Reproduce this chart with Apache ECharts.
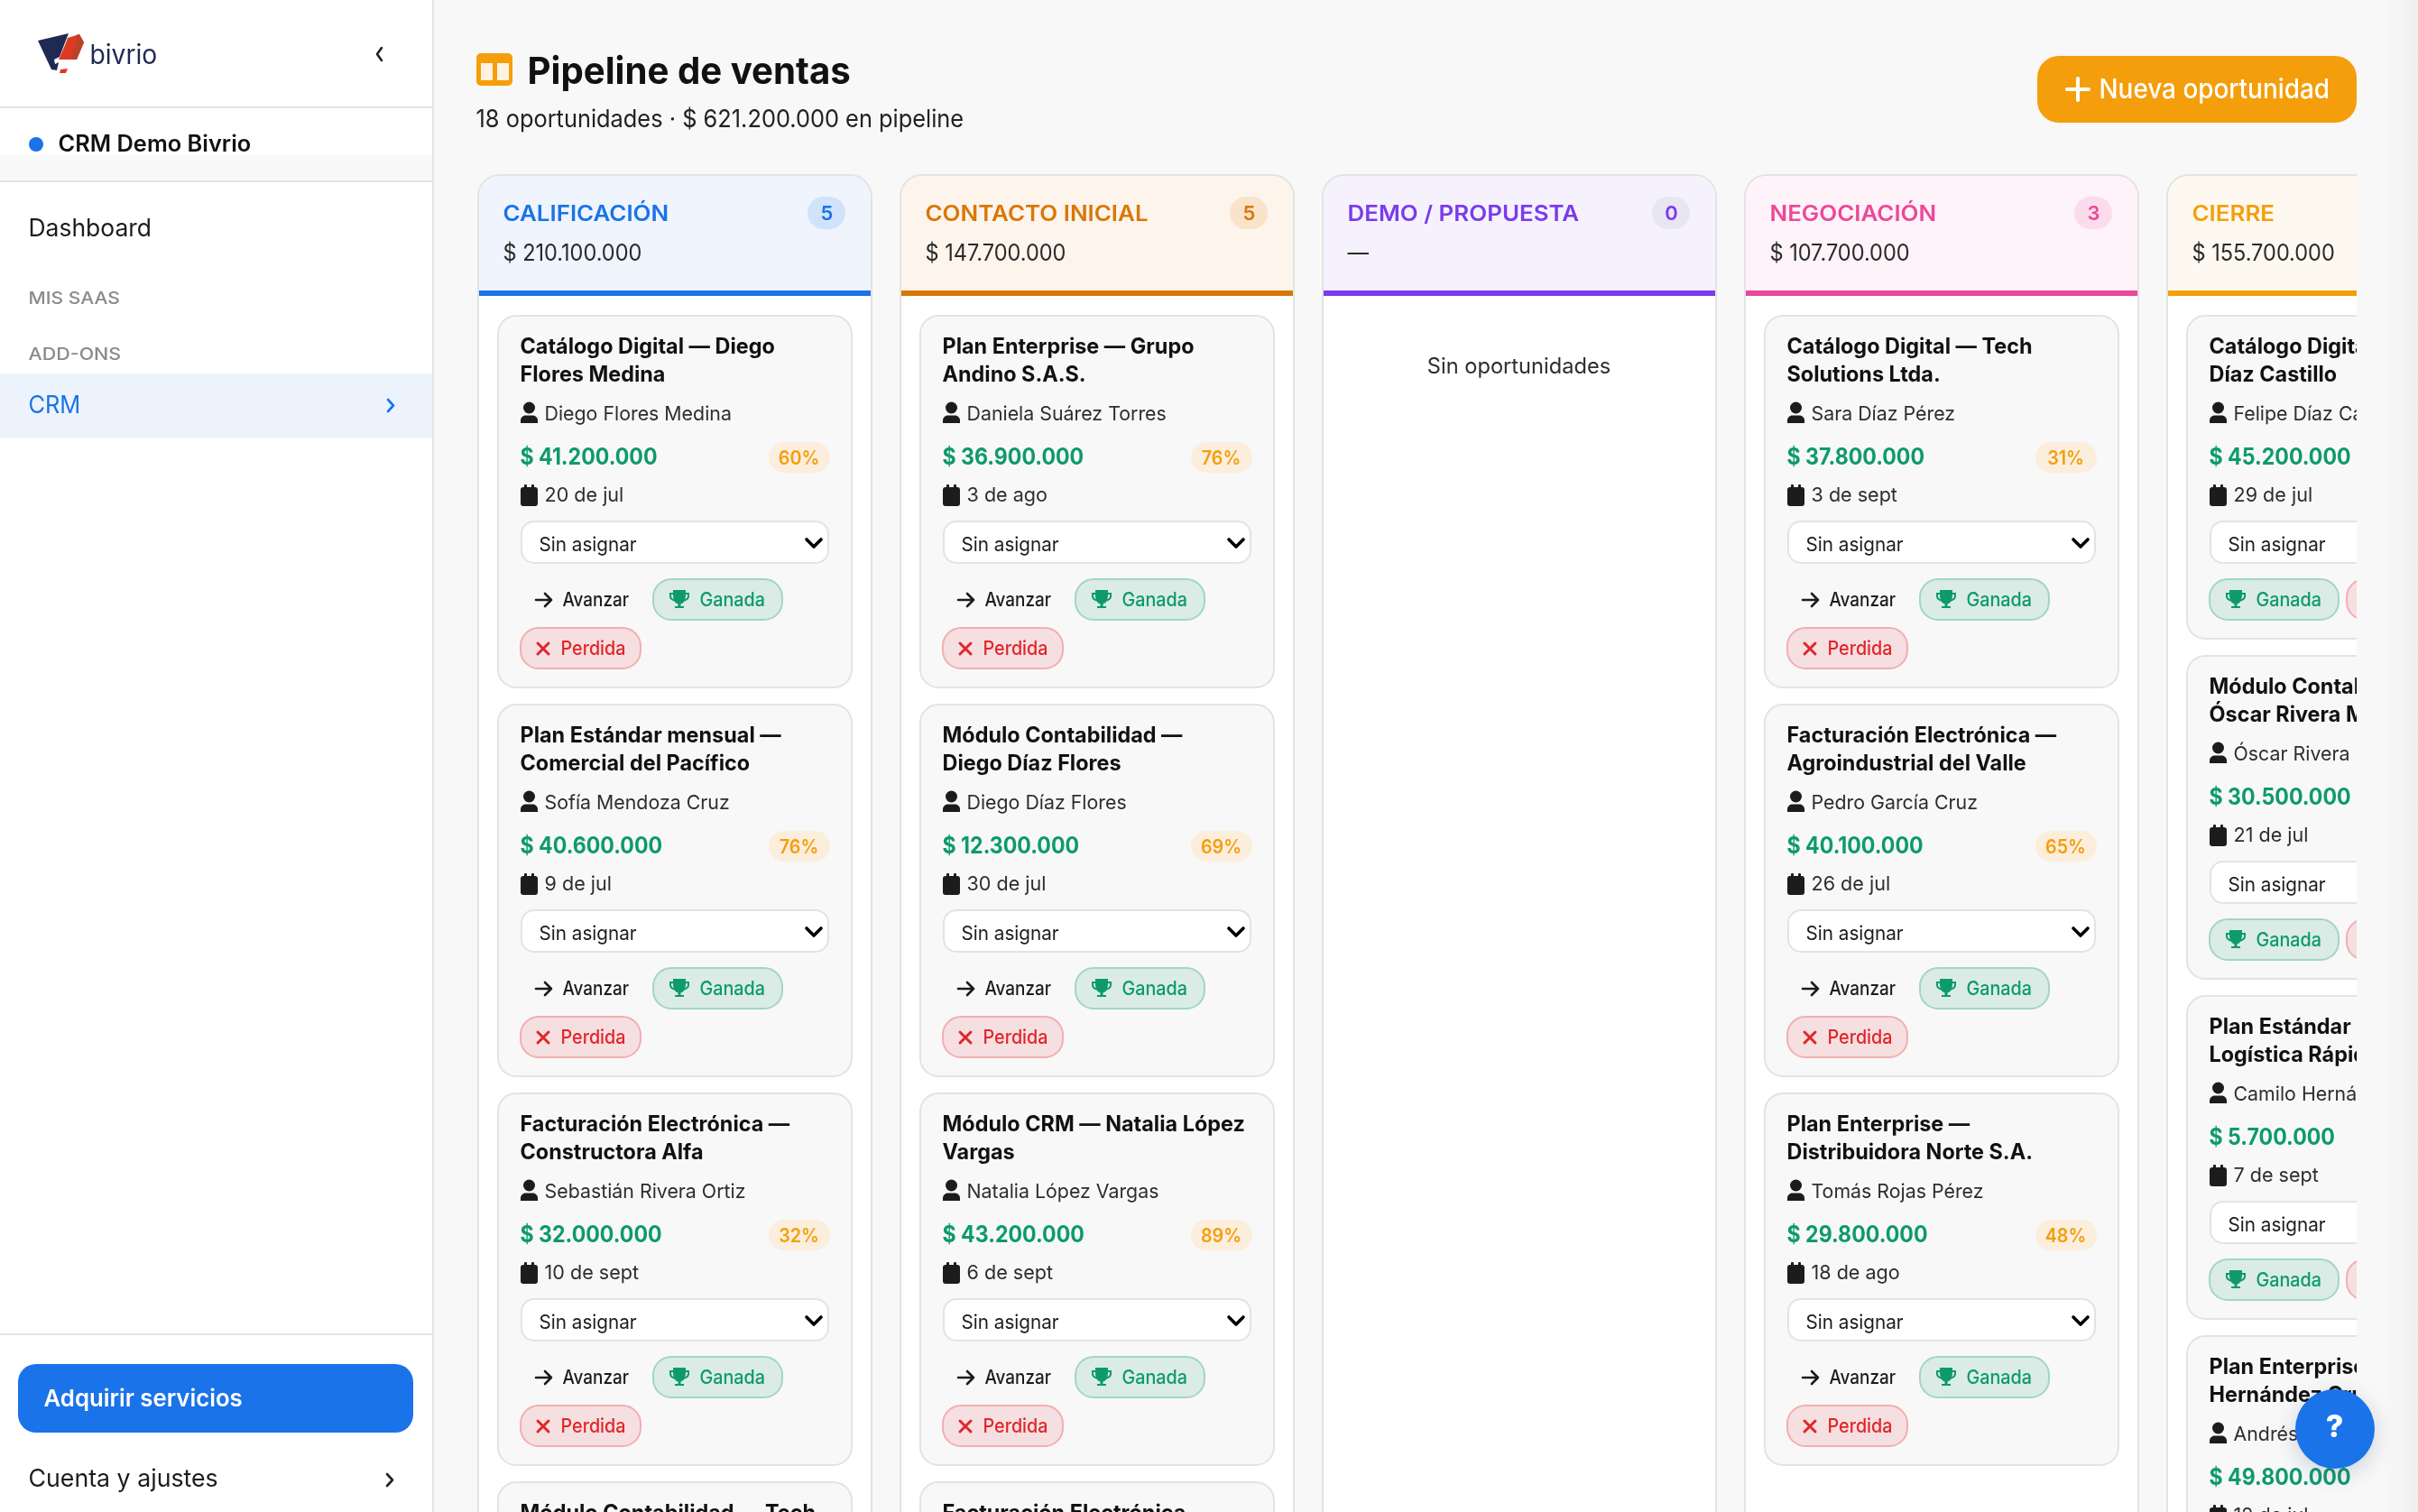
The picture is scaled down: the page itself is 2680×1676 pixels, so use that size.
<!DOCTYPE html>
<html><head><meta charset="utf-8">
<style>html,body{margin:0;padding:0;background:#f8f8f8}#c{width:2680px;height:1676px}</style>
<script src="https://cdn.jsdelivr.net/npm/echarts@6/dist/echarts.min.js"></script>
</head><body><div id="c"></div>
<script>
const stages=['CALIFICACIÓN','CONTACTO INICIAL','DEMO / PROPUESTA','NEGOCIACIÓN','CIERRE'];
const stageTotals=['$ 210.100.000','$ 147.700.000','—','$ 107.700.000','$ 155.700.000'];
const stageCounts=[5,5,0,3,5];
const stageColors=['#1a73e8','#d97706','#7c3aed','#ec4899','#f59e0b'];
const stageTints=['#eff4fd','#fdf4ec','#f5f2fe','#fdf3f9','#fef9f0'];
const badgeTints=['#d1e3fa','#fae3cb','#e8e6f2','#fbdcec','#fdecce'];

const fullStage=[0,0,0,0,1,1,1,1,3,3,3];
const fullSlot=[0,1,2,3,0,1,2,3,0,1,2];
const fullTitleA=['Catálogo Digital — Diego','Plan Estándar mensual —','Facturación Electrónica —','Módulo Contabilidad — Tech','Plan Enterprise — Grupo','Módulo Contabilidad —','Módulo CRM — Natalia López','Facturación Electrónica','Catálogo Digital — Tech','Facturación Electrónica —','Plan Enterprise —'];
const fullTitleB=['Flores Medina','Comercial del Pacífico','Constructora Alfa','','Andino S.A.S.','Diego Díaz Flores','Vargas','','Solutions Ltda.','Agroindustrial del Valle','Distribuidora Norte S.A.'];
const fullOwner=['Diego Flores Medina','Sofía Mendoza Cruz','Sebastián Rivera Ortiz','','Daniela Suárez Torres','Diego Díaz Flores','Natalia López Vargas','','Sara Díaz Pérez','Pedro García Cruz','Tomás Rojas Pérez'];
const fullAmount=[41200000,40600000,32000000,null,36900000,12300000,43200000,null,37800000,40100000,29800000];
const fullProb=[60,76,32,null,76,69,89,null,31,65,48];
const fullDate=['20 de jul','9 de jul','10 de sept','','3 de ago','30 de jul','6 de sept','','3 de sept','26 de jul','18 de ago'];

const compactSlot=[0,1,2,3];
const compactTitleA=['Catálogo Digital —','Módulo Contabilidad','Plan Estándar mensual','Plan Enterprise —'];
const compactTitleB=['Díaz Castillo','Óscar Rivera M','Logística Rápida','Hernández Cruz'];
const compactOwner=['Felipe Díaz Castillo','Óscar Rivera M','Camilo Hernández','Andrés Hernández'];
const compactAmount=[45200000,30500000,5700000,49800000];
const compactDate=['29 de jul','21 de jul','7 de sept','12 de jul'];

const FONT='Inter', K=0.94, INK='#1c1c1c', GREEN='#0e9a6c', RED='#e0262b', LINE='#e3e3e4', CARD='#f8f8f8';
const SLOT_FULL=431, SLOT_COMPACT=377, GRID_LEFT=514, GRID_TOP=349, GRID_W=2166, GRID_H=1327, BAND=468;

function T(x,y,text,size,weight,fill,align,k){
  return {type:'text',x:x-0.5,y:y+1.5,scaleX:k||K,silent:true,style:{x:0,y:0,text:text,fontFamily:FONT,fontSize:size,fontWeight:weight,fill:fill,align:align||'left',verticalAlign:'middle'}};
}
function R(x,y,w,h,r,fill,stroke,lw){
  return {type:'rect',silent:true,shape:{x:x,y:y,width:w,height:h,r:r||0},style:{fill:fill,stroke:stroke||null,lineWidth:lw||0}};
}
function P(x,y,d,fill,stroke,lw){
  return {type:'path',x:x,y:y,silent:true,shape:{pathData:d},style:{fill:fill||null,stroke:stroke||null,lineWidth:lw||0,lineCap:'round',lineJoin:'round'}};
}
function L(points,stroke,lw){
  return {type:'polyline',silent:true,shape:{points:points},style:{fill:null,stroke:stroke,lineWidth:lw,lineCap:'round',lineJoin:'round'}};
}
function C(x,y,r,fill){return {type:'circle',silent:true,shape:{cx:x,cy:y,r:r},style:{fill:fill}};}
const money=v=>'$ '+String(v).replace(/\B(?=(\d{3})+$)/g,'.');
const TROPHY='M5 0H19V3H23V7C23 10 20 12 17.5 12.5C16.5 14 15 15 13.5 15.5V18H17V20H7V18H10.5V15.5C9 15 7.5 14 6.5 12.5C4 12 1 10 1 7V3H5ZM5 5H3V7C3 8.5 4.5 10 5.8 10.3C5.3 9 5 7 5 5ZM19 5C19 7 18.7 9 18.2 10.3C19.5 10 21 8.5 21 7V5Z';
const PERSON='M0 22V19C0 15.5 3 13.5 6 13.5H13C16 13.5 19 15.5 19 19V22C19 22 0 22 0 22Z';

function ganada(x,y){return [R(x,y,143,45,20,'#daece5','#a3d6c2',2),P(x+17,y+12,TROPHY,GREEN),T(x+52,y+22,'Ganada',21,500,GREEN)];}
function perdida(x,y){return [R(x,y,133,45,20,'#f6dfe0','#f3aeb0',2),
  P(x+19,y+17,'M0 0L12 12M12 0L0 12',null,RED,3),T(x+45,y+22,'Perdida',21,500,RED)];}
function cardBody(left,top,h,titleA,titleB,owner,amount,prob,date){
  const x=left+26, ch=[R(left+1,top+1,392,h-2,20,CARD,LINE,2)];
  ch.push(T(x,top+34,titleA,24,700,'#111','left',0.975));
  if(titleB)ch.push(T(x,top+65,titleB,24,700,'#111','left',0.975));
  if(owner){ch.push(C(x+9.5,top+103,6.5,INK),P(x,top+98,PERSON,INK),T(x+27,top+109,owner,22,400,'#2e2e2e','left',0.97));}
  if(amount!=null){ch.push(T(x,top+157,money(amount),25,700,GREEN,'left',0.925));}
  if(prob!=null){ch.push(R(left+301,top+141,68,34,17,'#fbeedd'),T(left+335,top+158,prob+'%',21,600,'#f59e0b','center'));}
  if(date){ch.push(R(x,top+191,19,21,3,INK),R(x+4,top+188,3,5,1,INK),R(x+12,top+188,3,5,1,INK),T(x+27,top+199,date,22,400,'#2e2e2e','left',0.98));}
  return ch;
}
function selectBox(left,top){
  const x=left+26;
  return [R(x+1,top+229,340,46,14,'#fff',LINE,2),T(x+21,top+253.5,'Sin asignar',22,400,INK),
    P(x+317,top+249,'M0 0L8 8L16 0',null,'#000',3.6)];
}
function renderColumn(params,api){
  const i=api.value(0), left=api.coord([i,0])[0]-BAND/2+15, c=stageColors[i];
  const ch=[R(left+1,194,436,1600,[24,24,0,0],'#fff',LINE,2),
    R(left+2,195,434,127,[23,23,0,0],stageTints[i]),R(left+2,322,434,6,0,c),
    T(left+29,236,stages[i],24,600,c,'left',1.08),
    T(left+29,279.5,stageTotals[i],25,400,'#2a2a2a'),
    R(left+366,218,42,36,18,badgeTints[i]),T(left+388,235.5,String(stageCounts[i]),22,600,c,'center',1)];
  if(stageCounts[i]===0)ch.push(T(left+219,405,'Sin oportunidades',24,400,'#2e2e2e','center',0.984));
  return {type:'group',children:ch};
}
function renderFull(params,api){
  const n=api.value(2), p=api.coord([api.value(0),api.value(1)]), left=p[0]-BAND/2+15+22, top=p[1], x=left+26;
  const ch=cardBody(left,top,414,fullTitleA[n],fullTitleB[n],fullOwner[n],fullAmount[n],fullProb[n],fullDate[n]);
  if(fullOwner[n]){
    ch.push(...selectBox(left,top));
    ch.push(P(x+17,top+316,'M0 0H17M10 -7L17 0L10 7',null,INK,2.6),T(x+47,top+315,'Avanzar',21,500,INK,'left',0.9));
    ch.push(...ganada(x+147,top+293),...perdida(x,top+347));
  }
  return {type:'group',children:ch};
}
function renderCompact(params,api){
  const n=api.value(2), p=api.coord([api.value(0),api.value(1)]), left=p[0]-BAND/2+15+22, top=p[1], x=left+26;
  const ch=cardBody(left,top,360,compactTitleA[n],compactTitleB[n],compactOwner[n],compactAmount[n],null,compactDate[n]);
  ch.push(...selectBox(left,top),...ganada(x,top+293),...perdida(x+152,top+293));
  return {type:'group',children:ch};
}
const chrome=[
  R(2612,180,68,1496,0,'#f8f8f8'),
  {type:'rect',silent:true,shape:{x:2640,y:0,width:40,height:1676},style:{fill:{type:'linear',x:0,y:0,x2:1,y2:0,colorStops:[{offset:0,color:'rgba(0,0,0,0)'},{offset:1,color:'rgba(0,0,0,0.035)'}]}}},
  R(0,0,479,1676,0,'#fff'),R(479,0,2,1676,0,'#e4e4e4'),
  R(0,118,479,2,0,'#e4e4e4'),
  {type:'polygon',silent:true,shape:{points:[[42,45],[76,37],[66,63],[60,66],[61,71],[65,69],[63,78],[57,77]]},style:{fill:'#1f2a52'}},
  {type:'polygon',silent:true,shape:{points:[[75,42],[88,38],[93,47],[85,66],[65,66],[72,50]]},style:{fill:'#dc3a22'}},
  {type:'polygon',silent:true,shape:{points:[[84,39],[88,38],[93,47],[85,66],[78,66],[86,46]]},style:{fill:'#b8432a'}},
  {type:'polygon',silent:true,shape:{points:[[67,77],[75,76],[73,81],[66,81]]},style:{fill:'#dc3a22'}},
  T(100,60.5,'bivrio',30,400,'#1f2a52','left',0.94),
  L([[423,53],[418,60],[423,67]],'#222',2.6),
  C(40,160,8,'#1a73e8'),T(65,159,'CRM Demo Bivrio',25,600,'#111','left',1.015),
  R(0,172,479,28,0,'#f8f8f8'),R(0,200,479,2,0,'#e4e4e4'),
  T(32,252,'Dashboard',27,400,'#1c1c1c','left',0.98),
  T(32,329.5,'MIS SAAS',19,500,'#8a8a8a','left',1.11),T(32,391.5,'ADD-ONS',19,500,'#8a8a8a','left',1.13),
  R(0,414,479,72,0,'#edf3fd'),T(32,448,'CRM',27,400,'#1a73e8'),
  L([[430,443],[436,449.5],[430,456]],'#1a73e8',2.6),
  R(0,1478,479,2,0,'#e4e4e4'),R(20,1512,438,76,20,'#1a73e8'),
  T(49,1549.5,'Adquirir servicios',26,600,'#fff','left',0.99),
  T(32,1638,'Cuenta y ajustes',27,400,'#1c1c1c','left',0.99),L([[429,1634],[435,1640.5],[429,1647]],'#222',2.6),
  R(528,59,40,36,5,'#f59e0b'),R(533,70,13,19,0,'#fff3df'),R(551,70,13,19,0,'#fff3df'),
  T(585,79,'Pipeline de ventas',41,700,'#111','left',0.98),
  T(528,131,'18 oportunidades · $ 621.200.000 en pipeline',27,400,'#222'),
  R(2258,62,354,74,24,'#f59e0b'),
  L([[2291,99],[2315,99]],'#fff',4),L([[2303,87],[2303,111]],'#fff',4),T(2327,98,'Nueva oportunidad',30,500,'#fff','left',0.93),
  {type:'circle',silent:true,shape:{cx:2588,cy:1584,r:44},style:{fill:'#1a73e8',shadowBlur:24,shadowColor:'rgba(40,60,110,0.22)',shadowOffsetY:6}},
  T(2588,1581,'?',34,800,'#fff','center',1)
].map(e=>Object.assign(e,{z:100}));

const chart=echarts.init(document.getElementById('c'),null,{renderer:'canvas',width:2680,height:1676});
chart.setOption({
  animation:false,backgroundColor:'#f8f8f8',tooltip:{show:false},legend:{show:false},
  grid:{left:GRID_LEFT,top:GRID_TOP,width:GRID_W,height:GRID_H,containLabel:false},
  xAxis:{type:'value',min:-0.5,max:GRID_W/BAND-0.5,show:false,splitLine:{show:false}},
  yAxis:[
    {type:'value',inverse:true,min:0,max:GRID_H/SLOT_FULL,show:false,splitLine:{show:false}},
    {type:'value',inverse:true,min:0,max:GRID_H/SLOT_COMPACT,show:false,splitLine:{show:false}}
  ],
  graphic:{elements:chrome},
  series:[
    {name:'Etapas',type:'custom',renderItem:renderColumn,silent:true,z:1,yAxisIndex:0,encode:{x:0,y:1},
     data:stages.map((s,i)=>[i,0])},
    {name:'Oportunidades',type:'custom',renderItem:renderFull,silent:true,z:2,yAxisIndex:0,encode:{x:0,y:1},
     data:fullStage.map((s,i)=>[s,fullSlot[i],i])},
    {name:'Cierre',type:'custom',renderItem:renderCompact,silent:true,z:2,yAxisIndex:1,encode:{x:0,y:1},
     data:compactSlot.map((s,i)=>[4,s,i])}
  ]
});
</script></body></html>
